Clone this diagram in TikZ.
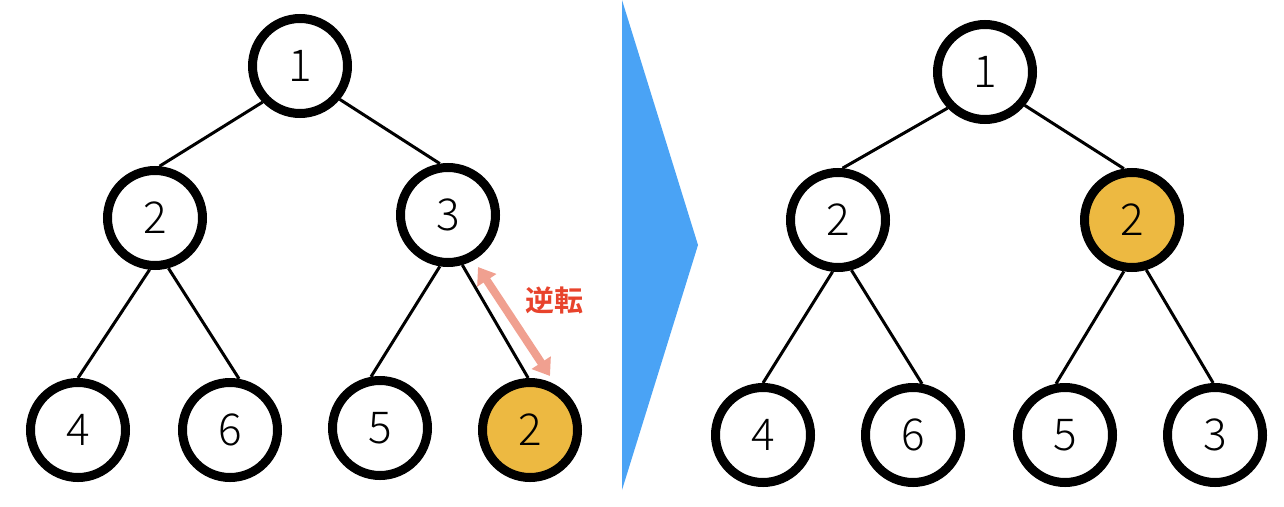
\documentclass[tikz,border=0pt]{standalone}
\usepackage{fontspec}
\setmainfont{Noto Sans}
\newfontfamily\cjk{Noto Sans CJK JP}[BoldFont={* Bold}]
\newfontfamily\numfont{Noto Sans CJK JP Light}
\usetikzlibrary{arrows.meta}
\definecolor{gold}{HTML}{EDB941}
\definecolor{tri}{HTML}{4AA3F5}
\definecolor{salmon}{HTML}{F0A090}
\definecolor{lbl}{HTML}{E8432C}
\begin{document}
\begin{tikzpicture}[x=1pt,y=-1pt,
  nd/.style={circle,draw=black,line width=9pt,fill=white,minimum size=95pt,inner sep=0pt,font=\numfont\fontsize{44}{44}\selectfont},
  hl/.style={nd,fill=gold},
  ed/.style={line width=3pt}]
\useasboundingbox (0,0) rectangle (1284,506);
\fill[tri] (622,0) -- (698,245) -- (622,490) -- cycle;
% left tree
\node[nd] (a1) at (300,66) {1};
\node[nd] (a2) at (155,218) {2};
\node[nd] (a3) at (448,215) {3};
\node[nd] (a4) at (78,430) {4};
\node[nd] (a6) at (230,430) {6};
\node[nd] (a5) at (380,428) {5};
\node[hl] (a7) at (530,430) {2};
\draw[ed] (a1.224) -- (a2.85); \draw[ed] (a1.-40) -- (a3.99);
\draw[ed] (a2.264) -- (a4.90); \draw[ed] (a2.-75) -- (a6.80);
\draw[ed] (a3.261) -- (a5.100); \draw[ed] (a3.-74) -- (a7.92);
\coordinate (s) at (478,267); \coordinate (e) at (550,376);
\draw[salmon,line width=8pt,{Triangle[length=16pt,width=22pt]}-{Triangle[length=16pt,width=22pt]}] (s) -- (e);
\node[font=\cjk\bfseries\fontsize{29}{29}\selectfont,text=lbl] (lab) at (554,300) {逆転};
% right tree
\node[nd] (b1) at (985,72) {1};
\node[nd] (b2) at (838,220) {2};
\node[hl] (b3) at (1132,220) {2};
\node[nd] (b4) at (763,435) {4};
\node[nd] (b6) at (913,435) {6};
\node[nd] (b5) at (1065,435) {5};
\node[nd] (b7) at (1215,435) {3};
\draw[ed] (b1.224) -- (b2.85); \draw[ed] (b1.-40) -- (b3.99);
\draw[ed] (b2.264) -- (b4.90); \draw[ed] (b2.-75) -- (b6.80);
\draw[ed] (b3.261) -- (b5.100); \draw[ed] (b3.-74) -- (b7.92);
\end{tikzpicture}
\end{document}
